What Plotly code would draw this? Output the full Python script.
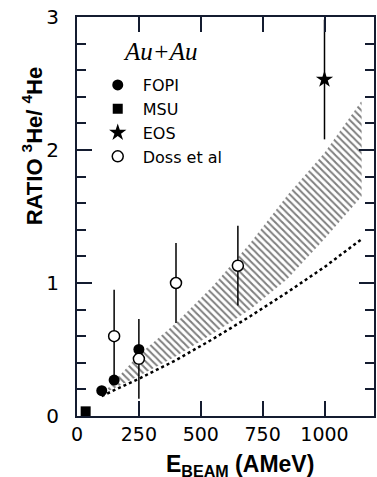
import plotly.graph_objects as go

# ---- data ----
fopi_x = [100, 150, 250]
fopi_y = [0.19, 0.27, 0.50]

msu_x = [35]
msu_y = [0.035]

eos_x = [1000]
eos_y = [2.53]
eos_err = [0.45]

doss_x = [150, 250, 400, 650]
doss_y = [0.60, 0.43, 1.00, 1.13]
doss_err = [0.35, 0.30, 0.30, 0.30]

band_x = [120, 250, 400, 550, 700, 850, 1000, 1150]
band_lo = [0.18, 0.30, 0.45, 0.62, 0.80, 1.03, 1.33, 1.65]
band_hi = [0.20, 0.46, 0.70, 0.98, 1.30, 1.66, 1.98, 2.37]

dot_x = [100, 250, 400, 550, 700, 850, 1000, 1150]
dot_y = [0.15, 0.28, 0.42, 0.58, 0.75, 0.93, 1.12, 1.33]

x_range = [0, 1200]
y_range = [0, 3]
x_tick_step = 250
y_tick_step = 1
y_minor_step = 0.2

TICKFONT = "DejaVu Sans"
BOLD = "Liberation Sans"
AXIS = "#141c30"

fig = go.Figure()

# hatched band
fig.add_trace(go.Scatter(x=band_x, y=band_lo, mode="lines", line=dict(width=0),
                         showlegend=False, hoverinfo="skip"))
fig.add_trace(go.Scatter(x=band_x, y=band_hi, mode="lines", line=dict(width=0),
                         fill="tonexty", fillcolor="rgba(0,0,0,0)",
                         fillpattern=dict(shape="\\", fgcolor="black", bgcolor="rgba(0,0,0,0)",
                                          size=5, solidity=0.4),
                         showlegend=False, hoverinfo="skip"))
# dotted curve
fig.add_trace(go.Scatter(x=dot_x, y=dot_y, mode="lines",
                         line=dict(color="black", width=2.5, dash="dot"),
                         showlegend=False, hoverinfo="skip"))

err_style = dict(type="data", color="black", thickness=1.5, width=0)

fig.add_trace(go.Scatter(x=fopi_x, y=fopi_y, mode="markers", name="FOPI",
                         marker=dict(symbol="circle", size=11, color="black")))
fig.add_trace(go.Scatter(x=msu_x, y=msu_y, mode="markers", name="MSU",
                         marker=dict(symbol="square", size=10, color="black")))
fig.add_trace(go.Scatter(x=eos_x, y=eos_y, mode="markers", name="EOS",
                         error_y=dict(array=eos_err, **err_style),
                         marker=dict(symbol="star", size=13, color="black")))
fig.add_trace(go.Scatter(x=doss_x, y=doss_y, mode="markers", name="Doss et al",
                         error_y=dict(array=doss_err, **err_style),
                         marker=dict(symbol="circle", size=11, color="white",
                                     line=dict(color="black", width=1.5))))

fig.update_layout(
    width=377, height=477,
    margin=dict(l=77, r=1, t=17, b=61),
    plot_bgcolor="white", paper_bgcolor="white",
    showlegend=True,
    legend=dict(x=0.053, y=0.872, xanchor="left", yanchor="top", traceorder="normal",
                font=dict(family=TICKFONT, size=16, color="black"),
                bgcolor="rgba(0,0,0,0)", itemwidth=40, tracegroupgap=0),
)
fig.update_xaxes(range=x_range, tickmode="linear", tick0=0, dtick=x_tick_step,
                 ticks="inside", ticklen=15, tickwidth=1.5, tickcolor=AXIS,
                 showline=True, linewidth=2, linecolor=AXIS, mirror="ticks",
                 showgrid=False, zeroline=False,
                 tickfont=dict(family=TICKFONT, size=19, color="black"))
fig.update_yaxes(range=y_range, tickmode="linear", tick0=0, dtick=y_tick_step,
                 ticks="inside", ticklen=15, tickwidth=1.5, tickcolor=AXIS,
                 showline=True, linewidth=2, linecolor=AXIS, mirror="ticks",
                 showgrid=False, zeroline=False, ticklabelstandoff=12,
                 minor=dict(dtick=y_minor_step, ticks="inside", ticklen=9, tickwidth=1.5,
                            tickcolor=AXIS, showgrid=False),
                 tickfont=dict(family=TICKFONT, size=20, color="black"))

fig.add_annotation(text="<i>Au+Au</i>", xref="paper", yref="paper",
                   x=(161 - 77) / 299, y=(416 - 51) / 399, showarrow=False,
                   xanchor="center", yanchor="middle",
                   font=dict(family="Liberation Serif", size=25, color="black"))
fig.add_annotation(text="<b>E<sub>BEAM</sub> (AMeV)</b>", xref="paper", yref="paper",
                   x=(241 - 77) / 299, y=(416 - 465) / 399, showarrow=False,
                   xanchor="center", yanchor="middle",
                   font=dict(family=BOLD, size=23, color="black"))
fig.add_annotation(text="<b>RATIO <sup>3</sup>He/ <sup>4</sup>He</b>", xref="paper", yref="paper",
                   x=(32 - 77) / 299, y=(416 - 146) / 399, showarrow=False,
                   textangle=-90, xanchor="center", yanchor="middle",
                   font=dict(family=BOLD, size=22, color="black"))

fig.write_html("out.html", config={"displayModeBar": False},
               post_script="document.body.style.margin='0px';")
